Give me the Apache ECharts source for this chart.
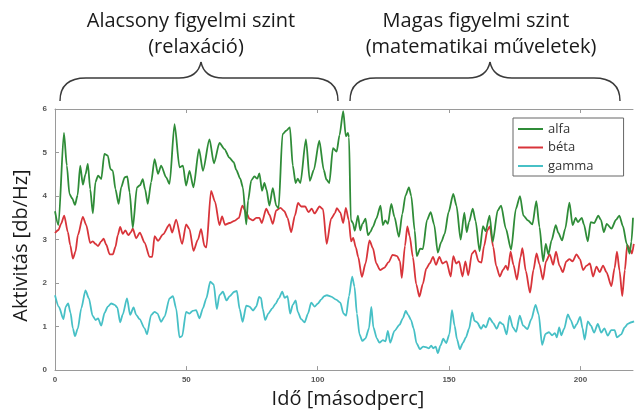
<!DOCTYPE html>
<html>
<head>
<meta charset="utf-8">
<script src="https://cdn.jsdelivr.net/npm/echarts@6/dist/echarts.min.js"></script>
<style>
  html, body { margin: 0; padding: 0; background: #fff; }
  #chart { width: 635px; height: 414px; }
</style>
</head>
<body>
<div id="chart"></div>
<script>
// Band activity over time: [seconds, db/Hz]
const alfa = [
  [0,3.65],[1.3,3.33],[3.4,5.45],[4.5,4.7],[5.5,4.05],[6.5,3.95],[7.6,3.8],[8.6,4.02],[9.6,4.7],[10.6,4.26],
  [11.6,4.5],[12.5,4.74],[13.4,4.16],[14.4,3.6],[15.4,4.32],[16.4,4.47],[17.6,4.39],[18.8,4.97],[20.1,4.93],[21.1,4.62],
  [22.0,4.58],[23.0,4.16],[24.2,3.82],[25.2,4.2],[26.5,4.43],[27.5,4.45],[28.4,4.09],[29.6,3.27],[31.2,4.2],[32.4,4.25],
  [33.4,4.39],[34.3,4.15],[35.3,3.82],[36.6,4.32],[37.9,4.85],[39.2,4.51],[40.4,4.7],[42.3,4.43],[43.6,4.28],[45.5,5.65],
  [47.4,4.66],[48.7,4.7],[49.9,4.24],[51.2,4.58],[52.7,4.2],[54.8,5.08],[56.3,4.58],[58.8,5.3],[60.5,4.75],[62.6,5.22],
  [64.5,5.08],[66.4,4.88],[68,4.78],[69,4.6],[70.5,4.4],[71.5,4.2],[72.8,3.35],[73.5,3.9],[74.7,4.36],[75.9,4.45],
  [77,4.4],[77.8,4.52],[78.8,4.12],[79.7,4.3],[80.5,4.15],[81.6,3.78],[82.9,4.18],[84.2,3.78],[85.1,3.72],[86.6,5.42],
  [88,5.5],[89.4,5.58],[90.5,4.7],[91.6,4.3],[92.4,4.4],[93.4,4.3],[95.5,5.3],[97,4.35],[98.5,4.6],[100.6,5.27],
  [102.3,4.6],[103.3,4.38],[104.4,4.3],[105.8,5.1],[107.2,5.02],[108.3,5.4],[109.7,5.95],[110.7,5.37],[111.5,5.45],[111.9,5.35],
  [112.6,3.45],[113.4,3.38],[114.1,3.2],[115.3,3.55],[116.2,3.21],[117,3.36],[118.2,3.48],[119.1,3.1],[120,3.17],[121,3.29],
  [122.3,3.48],[123.9,3.78],[124.8,3.33],[125.7,3.44],[126.7,3.36],[128,3.82],[129.2,3.52],[130.9,3.06],[132.2,3.59],[133.4,4.01],
  [134.7,4.2],[135.6,4.0],[136.9,3.21],[137.7,2.62],[139,2.79],[140,2.78],[141.6,3.45],[143,3.63],[144.3,3.35],[145.7,2.7],
  [147,2.94],[148.3,3.13],[149.8,3.63],[151.6,4.05],[152.8,3.78],[154.4,3.0],[155.8,3.62],[156.7,3.17],[157.6,3.4],[159,3.71],
  [160.1,3.42],[161.6,2.73],[162.9,3.31],[163.9,3.19],[165.4,3.55],[166.6,2.95],[168.5,3.67],[169.8,3.78],[171.6,3.25],[173.6,2.77],
  [175.4,3.7],[177,4.0],[178.3,3.55],[180,3.44],[181.7,3.35],[183.2,3.88],[184.4,3.29],[185.8,2.5],[186.8,2.9],[187.8,2.66],
  [189,2.98],[190.6,3.33],[191.6,3.15],[193,2.98],[194.2,3.25],[195.8,3.85],[197,3.33],[198.2,3.5],[199,3.4],[200.5,3.5],
  [201.3,3.35],[202.8,2.96],[203.9,3.4],[205.2,3.38],[206.8,3.55],[207.8,3.45],[208.9,3.17],[210,3.36],[211.8,3.25],[213.5,3.45],
  [214.8,3.55],[216.2,3.3],[217.6,2.9],[218.7,2.68],[219.4,2.95],[220,3.5]
];

const beta = [
  [0,3.15],[1.3,3.22],[2.3,3.36],[3.5,3.55],[4.9,3.17],[5.8,2.87],[6.8,2.56],[7.8,2.72],[8.7,3.1],[10.6,3.52],
  [11.9,3.33],[13.4,2.92],[14.4,2.96],[15.4,2.9],[16.4,2.85],[17.6,2.96],[18.5,3.02],[19.5,2.88],[20.8,2.66],[22.0,2.66],
  [23.0,2.83],[23.9,3.1],[24.8,3.29],[25.8,3.13],[26.8,3.21],[27.9,3.1],[28.9,3.17],[29.6,3.25],[30.9,3.03],[32.3,3.16],
  [34.1,2.93],[36,2.6],[37,2.6],[37.9,3.08],[39.2,2.97],[41.1,3.12],[43.6,3.35],[44.6,3.16],[46.1,3.46],[48.4,2.9],
  [49.9,3.35],[51.2,3.24],[52.7,2.74],[54.4,3.0],[55.6,3.24],[56.9,2.85],[57.6,2.82],[59.4,4.12],[60.9,3.87],[62.6,3.33],
  [63.6,3.53],[64.7,3.34],[66.4,3.38],[68.3,3.43],[70,3.5],[71.3,3.78],[72.8,3.62],[74,3.48],[75.3,3.44],[76.6,3.5],
  [77.8,3.5],[78.7,3.38],[80.4,3.71],[81.6,3.57],[82.9,3.36],[84.2,3.67],[85.8,3.73],[87.3,3.65],[88.5,3.5],[89.9,3.17],
  [91.3,3.55],[92.5,3.84],[93.7,3.76],[95.2,3.76],[96.5,3.63],[97.7,3.71],[98.8,3.6],[100.7,3.76],[102,3.7],[103.4,2.9],
  [105.1,3.48],[106.5,3.6],[107.3,3.72],[108.6,3.62],[109.7,3.38],[110.7,3.73],[111.8,3.45],[112.7,2.96],[113.5,3.04],[114.5,2.82],
  [115.4,2.6],[116.8,2.14],[118.2,2.45],[119.7,2.98],[121,2.8],[122.3,2.45],[123.7,2.3],[125.3,2.35],[127,2.48],[128.5,2.65],
  [130.2,2.62],[131.3,2.5],[132,2.12],[133.2,2.85],[134.1,3.3],[135,3.08],[136.2,2.6],[137.5,1.97],[138.7,1.69],[140,1.98],
  [141.3,2.33],[142.6,2.45],[143.9,2.6],[145,2.42],[146.3,2.6],[147.5,2.45],[149,2.5],[150.6,2.15],[151.6,2.62],[152.7,2.45],
  [153.8,2.5],[155.1,2.15],[156.2,2.5],[157.3,2.18],[158.7,2.68],[159.9,2.75],[161.2,2.5],[162.3,2.47],[163.3,2.85],[164.6,3.22],
  [165.5,3.3],[166.8,2.83],[167.9,2.4],[169.3,2.15],[170.5,2.3],[171.6,2.4],[172.4,2.3],[173.4,2.72],[174.5,2.42],[175.8,2.08],
  [177.2,2.6],[177.9,2.8],[179.2,2.28],[180.8,1.78],[182.1,2.3],[183.3,2.68],[184.4,2.43],[185.7,2.08],[186.9,2.5],[188.3,2.66],
  [189.6,2.42],[190.7,2.72],[192,2.4],[193.3,2.25],[194.6,2.5],[195.8,2.55],[197,2.5],[198.5,2.66],[199.8,2.55],[201,2.3],
  [202.3,2.4],[203.6,2.45],[204.8,2.15],[206.1,2.38],[207.3,2.25],[208.6,2.4],[209.9,2.25],[211.8,1.93],[213,2.35],[213.9,2.72],
  [214.9,2.28],[215.9,1.7],[216.9,2.3],[217.8,2.87],[218.7,2.8],[219.6,2.68],[220.3,2.9]
];

const gamma = [
  [0,1.72],[1.5,1.45],[3.2,1.17],[4.1,1.46],[5,1.53],[5.9,1.32],[6.8,0.96],[7.6,0.78],[8.7,0.96],[10,1.42],
  [11.6,1.83],[12.9,1.65],[14.3,1.25],[15.5,1.15],[16.4,1.19],[17.6,1.02],[18.9,1.32],[20.1,1.46],[21.4,1.53],[22.7,1.5],
  [23.7,1.44],[24.8,1.1],[25.8,1.28],[27.4,1.65],[28.6,1.27],[29.9,1.44],[30.9,1.27],[32.2,1.17],[34.1,0.96],[35,0.82],
  [36.6,1.27],[37.9,1.34],[39,1.3],[40.4,1.11],[41.7,1.23],[43.6,1.65],[44.9,1.7],[46.1,1.42],[47.4,0.75],[48.4,0.78],
  [49.9,1.34],[51.2,1.3],[52.4,1.36],[53.7,1.38],[55,1.19],[56.3,1.42],[57.6,1.65],[59.1,2.03],[60.4,1.97],[61.6,1.4],
  [62.6,1.72],[63.9,1.8],[65.3,1.6],[66.5,1.7],[68.2,1.8],[69.2,1.82],[70.3,1.4],[71.4,1.11],[72.8,1.48],[74,1.46],
  [75.4,1.37],[76.6,1.46],[77.7,1.68],[78.4,1.66],[79.1,1.4],[80,1.15],[81.2,1.3],[82.7,1.42],[83.9,1.52],[85.2,1.65],
  [86.5,1.8],[87.4,1.66],[88.5,1.7],[89.5,1.3],[90.5,1.5],[91.6,1.6],[92.4,1.34],[93.7,1.17],[95,1.1],[96.3,1.3],
  [97.5,1.55],[98.8,1.46],[100.1,1.53],[101.3,1.62],[102.5,1.7],[103.5,1.72],[105.1,1.69],[107,1.62],[108.6,1.55],[109.8,1.3],
  [110.8,1.25],[111.9,1.7],[113.1,2.15],[114,1.92],[114.9,1.3],[115.9,0.82],[117,0.67],[118.2,0.73],[119.5,0.96],[120.4,1.45],
  [121.2,0.98],[122.5,0.73],[123.5,0.63],[124.8,0.69],[125.8,0.66],[126.7,0.9],[127.6,0.63],[129.2,0.9],[131.1,1.04],[132.4,1.19],
  [133.5,1.36],[134.4,1.27],[135.5,1.15],[136.5,0.96],[137.6,0.62],[138.9,0.48],[140.1,0.54],[141.2,0.53],[142.3,0.5],[143.2,0.56],
  [144,0.5],[144.9,0.54],[145.7,0.39],[146.7,0.56],[147.8,0.72],[148.9,0.62],[150.1,0.82],[151.1,1.38],[152.1,1.02],[153,0.71],
  [154.1,0.48],[155.2,0.62],[156.4,0.75],[157.6,0.95],[158.8,1.32],[159.7,1.13],[160.6,1.1],[162.2,0.95],[163.1,1.04],[164,0.98],
  [165.4,1.2],[166.8,1.08],[168.1,0.95],[169.3,1.1],[170.6,1.05],[171.9,0.82],[173,1.25],[174.3,0.98],[175.5,0.88],[176.9,1.25],
  [178.2,1.02],[179.8,0.94],[181.3,1.17],[182.9,1.5],[184.1,1.28],[185.4,0.58],[186.7,0.83],[188,0.87],[189.2,0.8],[190.3,0.85],
  [191,0.75],[191.9,0.98],[192.7,0.8],[193.8,0.95],[195.2,1.28],[196.3,1.15],[197.6,0.96],[198.5,1.05],[199.9,1.22],[200.8,0.96],
  [201.6,0.7],[202.8,1.12],[204,1.02],[205.2,0.86],[206.6,1.06],[207.9,0.86],[209.1,0.96],[210.4,0.79],[211.7,0.92],[213,0.92],
  [213.9,0.75],[215.5,0.82],[216.8,0.98],[218,1.06],[219.4,1.1],[220.4,1.12]
];

const seriesNames = ['alfa', 'béta', 'gamma'];
const seriesColors = ['#2f8c38', '#d8343a', '#47c0c6'];
const xTicks = [0, 50, 100, 150, 200];
const yTicks = [0, 1, 2, 3, 4, 5, 6];

const xTitle = 'Idő [másodperc]';
const yTitle = 'Aktivitás [db/Hz]';
const phaseLabels = [
  ['Alacsony figyelmi szint', '(relaxáció)'],
  ['Magas figyelmi szint', '(matematikai műveletek)']
];

const FONT = "'Open Sans', 'DejaVu Sans', sans-serif";
const TICK_FONT = "'Liberation Sans', Arial, sans-serif";

// Horizontal curly brace from x0 to x1 with its point at xc, built from curves and lines
function braceParts(x0, x1, xc, yEnd, yMid, yTip) {
  const st = { fill: null, stroke: '#3a3a3a', lineWidth: 1.4 };
  return [
    { type: 'bezierCurve', shape: { x1: x0, y1: yEnd, cpx1: x0, cpy1: yMid + 8, cpx2: x0 + 8, cpy2: yMid, x2: x0 + 26, y2: yMid }, style: st },
    { type: 'line', shape: { x1: x0 + 26, y1: yMid, x2: xc - 22, y2: yMid }, style: st },
    { type: 'bezierCurve', shape: { x1: xc - 22, y1: yMid, cpx1: xc - 8, cpy1: yMid, cpx2: xc - 2, cpy2: yMid - 6, x2: xc, y2: yTip }, style: st },
    { type: 'bezierCurve', shape: { x1: xc, y1: yTip, cpx1: xc + 2, cpy1: yMid - 6, cpx2: xc + 8, cpy2: yMid, x2: xc + 22, y2: yMid }, style: st },
    { type: 'line', shape: { x1: xc + 22, y1: yMid, x2: x1 - 26, y2: yMid }, style: st },
    { type: 'bezierCurve', shape: { x1: x1 - 26, y1: yMid, cpx1: x1 - 8, cpy1: yMid, cpx2: x1, cpy2: yMid + 8, x2: x1, y2: yEnd }, style: st }
  ];
}

const braces = [
  { x0: 60, x1: 338, xc: 201 },
  { x0: 350, x1: 620, xc: 490 }
];
const labelCenters = [[191, 196], [476, 481]];

const graphic = [];
braces.forEach(function (b) {
  braceParts(b.x0, b.x1, b.xc, 101, 78, 62).forEach(function (p) { graphic.push(p); });
});
phaseLabels.forEach(function (lines, i) {
  lines.forEach(function (txt, j) {
    graphic.push({
      type: 'text',
      x: labelCenters[i][j],
      y: j === 0 ? 21 : 47,
      style: {
        text: txt,
        fill: '#1a1a1a',
        font: '20px ' + FONT,
        align: 'center',
        verticalAlign: 'middle'
      }
    });
  });
});

const chart = echarts.init(document.getElementById('chart'), null, { renderer: 'canvas' });

const axisGrey = '#9a9a9a';

const option = {
  backgroundColor: '#ffffff',
  animation: false,
  textStyle: { fontFamily: FONT },
  grid: { left: 55, right: 2, top: 109, bottom: 42, containLabel: false },
  legend: {
    data: seriesNames,
    orient: 'vertical',
    left: 513,
    top: 118,
    icon: 'rect',
    itemWidth: 25,
    itemHeight: 2,
    itemGap: 2.5,
    padding: [3, 30, 2, 5],
    backgroundColor: '#ffffff',
    borderColor: '#666666',
    borderWidth: 1,
    borderRadius: 0,
    textStyle: { fontFamily: FONT, fontSize: 13, color: '#333', lineHeight: 16 }
  },
  xAxis: [
    {
      type: 'value',
      min: 0,
      max: 220,
      interval: 50,
      name: xTitle,
      nameLocation: 'middle',
      nameGap: 18,
      nameTextStyle: { fontFamily: FONT, fontSize: 20, color: '#1a1a1a', padding: [0, 0, 0, 8] },
      axisLine: { show: true, lineStyle: { color: axisGrey, width: 1 } },
      axisTick: { show: true, inside: true, length: 4, customValues: xTicks, lineStyle: { color: axisGrey } },
      axisLabel: {
        customValues: xTicks,
        margin: 6,
        fontFamily: TICK_FONT,
        fontSize: 8,
        fontWeight: 'bold',
        color: '#555'
      },
      splitLine: { show: false }
    },
    {
      type: 'value',
      position: 'top',
      min: 0,
      max: 220,
      interval: 50,
      axisLine: { show: true, lineStyle: { color: axisGrey, width: 1 } },
      axisTick: { show: true, inside: true, length: 4, customValues: xTicks, lineStyle: { color: axisGrey } },
      axisLabel: { show: false },
      splitLine: { show: false }
    }
  ],
  yAxis: {
    type: 'value',
    min: 0,
    max: 6,
    interval: 1,
    name: yTitle,
    nameLocation: 'middle',
    nameGap: 23,
    nameTextStyle: { fontFamily: FONT, fontSize: 20, color: '#1a1a1a', padding: [0, 12, 0, 0] },
    axisLine: { show: true, lineStyle: { color: axisGrey, width: 1 } },
    axisTick: { show: true, inside: true, length: 4, customValues: yTicks, lineStyle: { color: axisGrey } },
    axisLabel: {
      margin: 8,
      fontFamily: TICK_FONT,
      fontSize: 8,
      fontWeight: 'bold',
      color: '#555'
    },
    splitLine: { show: false }
  },
  series: [alfa, beta, gamma].map(function (data, i) {
    return {
      name: seriesNames[i],
      type: 'line',
      data: data,
      xAxisIndex: 0,
      showSymbol: false,
      symbol: 'none',
      smooth: 0.25,
      smoothMonotone: 'x',
      color: seriesColors[i],
      lineStyle: { width: 1.8, color: seriesColors[i] },
      z: 3 - i
    };
  }),
  graphic: graphic
};

chart.setOption(option);
</script>
</body>
</html>
